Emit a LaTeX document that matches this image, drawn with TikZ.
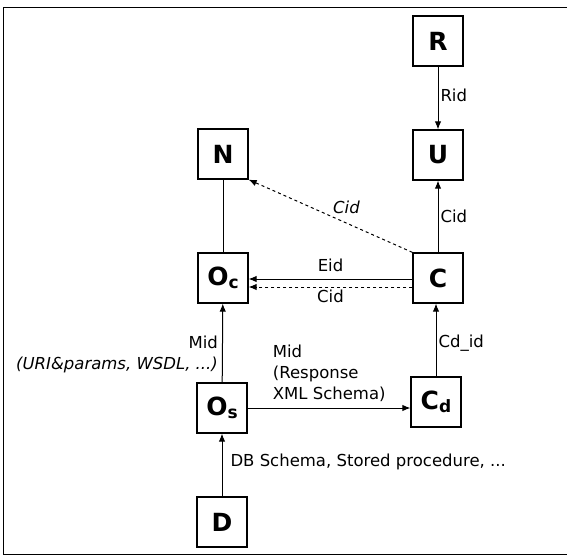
\documentclass[tikz,border=0pt]{standalone}
\usepackage{fontspec}
\setmainfont{DejaVu Sans}
\usetikzlibrary{arrows.meta}
\newcommand{\subl}[1]{\raisebox{-3pt}{\fontsize{17}{17}\selectfont #1}}
\begin{document}
\begin{tikzpicture}[x=1pt,y=-1pt,
 box/.style={draw,line width=1.3pt,fill=white,minimum width=50pt,minimum height=50pt,inner sep=0pt,font=\fontsize{25}{25}\selectfont\bfseries},
 lab/.style={font=\fontsize{16.5}{21}\selectfont,inner sep=2pt},
 ilab/.style={font=\fontsize{16.5}{21}\selectfont\itshape,inner sep=2pt},
 arr/.style={-{Latex[length=8pt,width=6.5pt]},line width=1pt},
 ]
\useasboundingbox (0,0) rectangle (567,556);
\draw[line width=0.8pt] (567,7) -- (3,7) -- (3,554) -- (567,554);
\node[box] (R) at (438,41) {R};
\node[box] (U) at (438,155) {U};
\node[box] (N) at (223,154) {N};
\node[box] (Oc) at (223,278) {O\subl{c}};
\node[box] (C) at (438,278) {C};
\node[box] (Os) at (222,408) {O\subl{s}};
\node[box] (Cd) at (436,402) {C\subl{d}};
\node[box] (D) at (222,522) {D};
\draw[arr] (R) -- node[lab,right,pos=0.45]{Rid} (U);
\draw[arr] (C) -- node[lab,right]{Cid} (U);
\draw[arr,dashed] (C.north west) -- node[ilab,above right,pos=0.45,xshift=-8pt,yshift=3pt]{Cid} (N.south east);
\draw[line width=1pt] (N) -- (Oc);
\draw[arr] ([yshift=-1pt]C.west) -- node[lab,above,yshift=5pt]{Eid} ([yshift=-1pt]Oc.east);
\draw[arr,dashed] ([yshift=-9pt]C.west) -- node[lab,below]{Cid} ([yshift=-9pt]Oc.east);
\draw[arr] (Os) -- node[lab,left,align=right,pos=0.35,xshift=-2pt]{Mid\\{\itshape (URI\&params, WSDL, ...)}} (Oc);
\draw[arr] (Os) -- (Os -| Cd.west);
\node[lab,align=left,anchor=south west] (midlab) at ([xshift=23pt,yshift=4pt]Os.east) {Mid\\(Response\\XML Schema)};
\draw[arr] (Cd) -- node[lab,right,pos=0.45]{Cd\_id} (Cd |- C.south);
\draw[arr] (D) -- node[lab,anchor=west,pos=0.55,xshift=6pt]{DB Schema, Stored procedure, ...} (Os);
\end{tikzpicture}
\end{document}
